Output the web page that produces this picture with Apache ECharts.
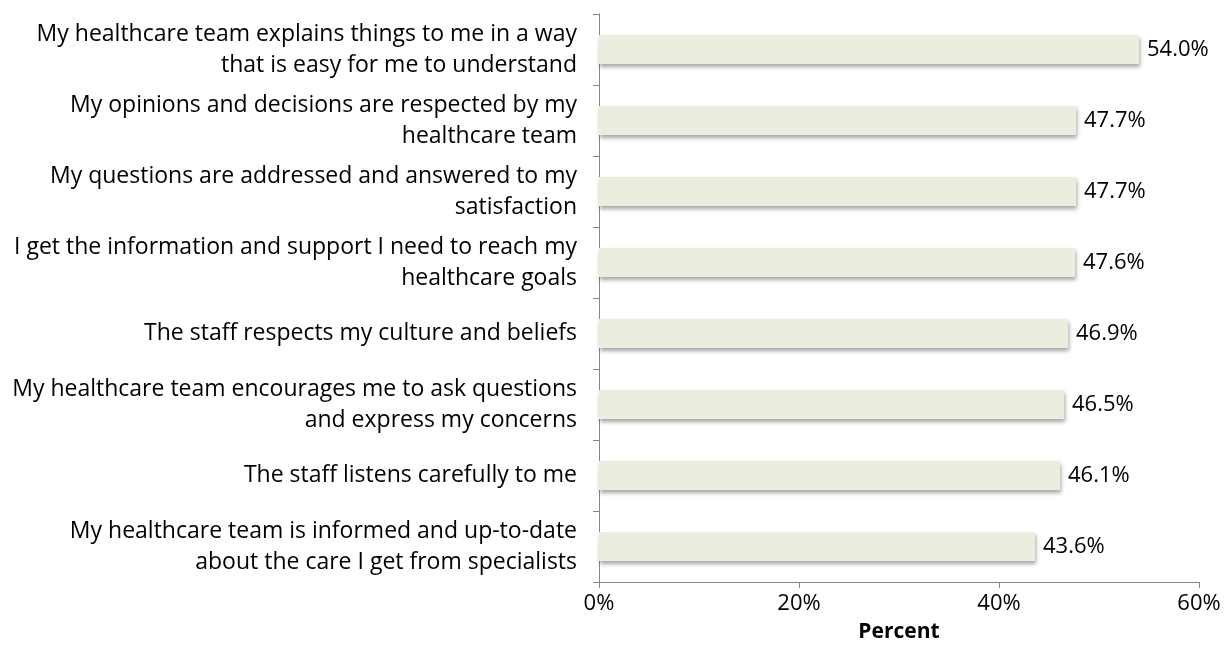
<!DOCTYPE html>
<html><head><meta charset="utf-8">
<script src="https://cdn.jsdelivr.net/npm/echarts@6/dist/echarts.min.js"></script>
<style>html,body{margin:0;padding:0;background:#fff}#c{width:1225px;height:669px}</style>
</head><body><div id="c"></div>
<script>
const categories = [
  "My healthcare team explains things to me in a way\nthat is easy for me to understand",
  "My opinions and decisions are respected by my\nhealthcare team",
  "My questions are addressed and answered to my\nsatisfaction",
  "I get the information and support I need to reach my\nhealthcare goals",
  "The staff respects my culture and beliefs",
  "My healthcare team encourages me to ask questions\nand express my concerns",
  "The staff listens carefully to me",
  "My healthcare team is informed and up-to-date\nabout the care I get from specialists"
];
const values = [54.0, 47.7, 47.7, 47.6, 46.9, 46.5, 46.1, 43.6];
const xTicks = [0, 20, 40, 60];
const axisTitle = "Percent";

const font = "'Open Sans', 'Liberation Sans', sans-serif";
const chart = echarts.init(document.getElementById('c'));
chart.setOption({
  animation: false,
  grid: {left: 599, right: 26, top: 14, bottom: 87, containLabel: false},
  xAxis: {
    type: 'value', min: xTicks[0], max: xTicks[xTicks.length - 1], interval: 20,
    name: axisTitle, nameLocation: 'middle', nameGap: 40,
    nameTextStyle: {fontFamily: font, fontSize: 21, fontWeight: 'bold', color: '#000'},
    axisLine: {show: true, lineStyle: {color: '#868686', width: 1}},
    axisTick: {show: true, length: 6, lineStyle: {color: '#868686'}},
    axisLabel: {fontFamily: font, fontSize: 22, color: '#000', margin: 11, formatter: v => v + '%'},
    splitLine: {show: false}
  },
  yAxis: {
    type: 'category', data: categories, inverse: true,
    axisLine: {show: true, lineStyle: {color: '#868686', width: 1}},
    axisTick: {show: true, length: 6, lineStyle: {color: '#868686'}},
    axisLabel: {fontFamily: font, fontSize: 23, color: '#000', margin: 22, align: 'right', lineHeight: 31}
  },
  series: [{
    type: 'bar', data: values, barWidth: 29,
    itemStyle: {color: '#EBEEDE', shadowColor: 'rgba(0,0,0,0.35)', shadowBlur: 4, shadowOffsetX: 1, shadowOffsetY: 3},
    label: {show: true, position: 'right', distance: 8, fontFamily: font, fontSize: 22, color: '#000',
      formatter: p => p.value.toFixed(1) + '%'}
  }]
});
</script></body></html>
